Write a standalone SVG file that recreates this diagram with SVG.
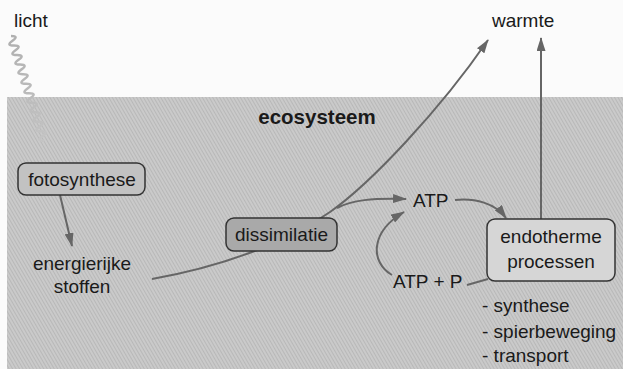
<svg xmlns="http://www.w3.org/2000/svg" width="623" height="369" viewBox="0 0 623 369">
  <defs>
    <pattern id="hatch" width="3" height="3" patternUnits="userSpaceOnUse" patternTransform="rotate(-30)">
      <rect width="3" height="3" fill="#cacaca"/>
      <line x1="0.5" y1="0" x2="0.5" y2="3" stroke="#b8b8b8" stroke-width="1"/>
    </pattern>
    <linearGradient id="fade" x1="0" y1="0" x2="1" y2="0">
      <stop offset="0" stop-color="#b0b0b0"/>
      <stop offset="1" stop-color="#c4c4c4"/>
    </linearGradient>
    <marker id="arrow" markerWidth="14" markerHeight="9" refX="13" refY="4.5" orient="auto" markerUnits="userSpaceOnUse">
      <path d="M0,0 L14,4.5 L0,9 z" fill="#666"/>
    </marker>
  </defs>
  <style>
    text { font-family: "Liberation Sans", Arial, sans-serif; font-size: 19px; fill: #1a1a1a; }
    .title { font-weight: bold; font-size: 20.5px; }
    .center { text-anchor: middle; }
    .box { stroke: #333; stroke-width: 1.5; }
    .conn { fill: none; stroke: #666; stroke-width: 2; }
  </style>

  <!-- page and ecosystem area -->
  <rect width="623" height="369" fill="#fbfbfb"/>
  <rect x="7" y="97" width="616" height="272" fill="url(#hatch)"/>

  <!-- light coming in as a wave -->
  <g id="licht">
    <text x="14" y="27">licht</text>
    <path transform="translate(11,36) rotate(72.5)" fill="none" stroke="url(#fade)" stroke-width="2.5"
          d="M0,0 q2.5,-8 5,0 t5,0 t5,0 t5,0 t5,0 t5,0 t5,0 t5,0 t5,0 t5,0 t5,0 t5,0 t5,0 t5,0 t5,0 t5,0 t5,0 t5,0 t5,0 t5,0 t5,0 t5,0"/>
  </g>

  <g id="warmte">
    <text x="492" y="27">warmte</text>
  </g>

  <g id="ecosysteem">
    <text class="title center" x="317" y="124">ecosysteem</text>
  </g>

  <!-- connectors -->
  <g id="connectors">
    <path class="conn" d="M60,195 L72,246" marker-end="url(#arrow)"/>
    <path class="conn" d="M152,279 C230,265 290,240 330,212 C370,184 440,110 488,40" marker-end="url(#arrow)"/>
    <path class="conn" d="M337,208 C352,200 372,198 406,199" marker-end="url(#arrow)"/>
    <path class="conn" d="M455,200 C475,198 495,203 506,218" marker-end="url(#arrow)"/>
    <path class="conn" d="M392,275 C370,262 370,232 404,212" marker-end="url(#arrow)"/>
    <path class="conn" d="M467,285 L488,279"/>
    <path class="conn" d="M541,219 L541,38" marker-end="url(#arrow)"/>
  </g>

  <g id="fotosynthese">
    <rect class="box" x="18" y="163" width="127" height="32" rx="8" fill="#c2c2c2"/>
    <text class="center" x="82" y="186">fotosynthese</text>
  </g>

  <g id="energierijke-stoffen">
    <text class="center" x="82" y="270">energierijke</text>
    <text class="center" x="82" y="293">stoffen</text>
  </g>

  <g id="dissimilatie">
    <rect class="box" x="226" y="218" width="111" height="33" rx="8" fill="#a9a9a9"/>
    <text class="center" x="281.5" y="241">dissimilatie</text>
  </g>

  <g id="atp">
    <text x="413" y="207">ATP</text>
  </g>

  <g id="atp-p">
    <text x="393" y="288">ATP + P</text>
  </g>

  <g id="endotherme-processen">
    <rect class="box" x="487" y="219" width="128" height="62" rx="8" fill="#d6d6d6"/>
    <text class="center" x="551" y="243">endotherme</text>
    <text class="center" x="551" y="268">processen</text>
  </g>

  <g id="voorbeelden">
    <text x="482" y="312">- synthese</text>
    <text x="482" y="338">- spierbeweging</text>
    <text x="482" y="362">- transport</text>
  </g>
</svg>
